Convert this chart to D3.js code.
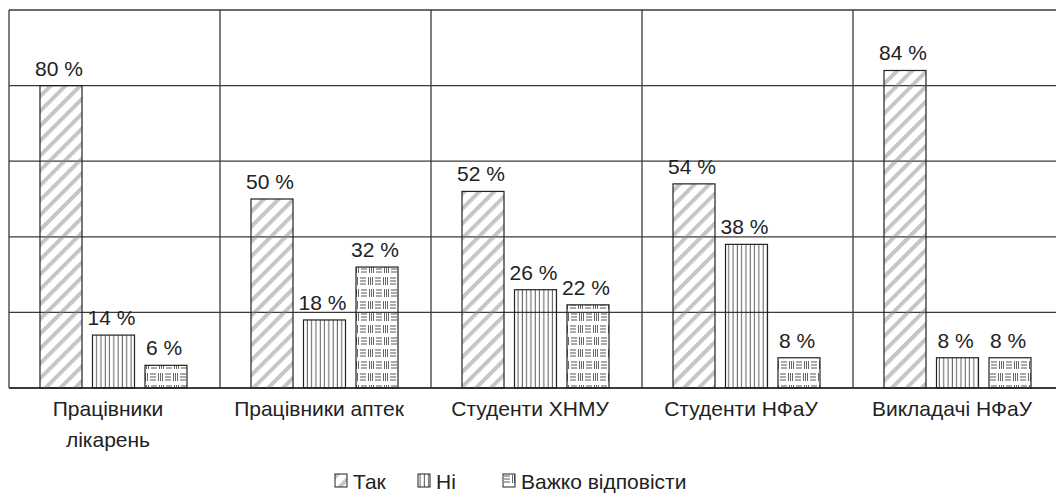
<!DOCTYPE html>
<html>
<head>
<meta charset="utf-8">
<script src="https://cdnjs.cloudflare.com/ajax/libs/d3/7.8.5/d3.min.js"></script>
<style>
	body { margin: 0; background: #fff; }
	svg { display: block; }
	text { font-family: "Liberation Sans", Arial, sans-serif; fill: #222; }
</style>
</head>
<body>
<svg id="chart"></svg>
<script>
// data
let categories = [["Працівники", "лікарень"], ["Працівники аптек"], ["Студенти ХНМУ"], ["Студенти НФаУ"], ["Викладачі НФаУ"]];
let seriesNames = ["Так", "Ні", "Важко відповісти"];
let yesValues = [80, 50, 52, 54, 84];
let noValues = [14, 18, 26, 38, 8];
let hardValues = [6, 32, 22, 8, 8];
let yTicks = [0, 20, 40, 60, 80, 100];

let width = 1056;
let height = 494;
let margin = {top: 10, left: 9, bottom: 106};
let plotW = 1055;
let plotH = height - margin.top - margin.bottom;

let svg = d3.select('#chart')
	.attr('width', width)
	.attr('height', height);

// patterns
let defs = svg.append('defs');

let diag = defs.append('pattern')
	.attr('id', 'pDiag')
	.attr('patternUnits', 'userSpaceOnUse')
	.attr('width', 10.5)
	.attr('height', 10)
	.attr('patternTransform', 'rotate(45)');
[0.5, 1.5, 2.5, 3.5].forEach(x => {
	diag.append('line')
		.attr('x1', x).attr('x2', x)
		.attr('y1', 0).attr('y2', 10)
		.attr('stroke', '#888')
		.attr('stroke-width', 0.5);
});

let vert = defs.append('pattern')
	.attr('id', 'pVert')
	.attr('patternUnits', 'userSpaceOnUse')
	.attr('width', 4.3)
	.attr('height', 10);
vert.append('line')
	.attr('x1', 2).attr('x2', 2)
	.attr('y1', 0).attr('y2', 10)
	.attr('stroke', '#222')
	.attr('stroke-width', 0.8);

let grid = defs.append('pattern')
	.attr('id', 'pGrid')
	.attr('patternUnits', 'userSpaceOnUse')
	.attr('width', 15)
	.attr('height', 24);

function hLines(g, x, y) {
	[0, 3, 6].forEach(dy => {
		g.append('line')
			.attr('x1', x).attr('x2', x + 6)
			.attr('y1', y + dy + 1).attr('y2', y + dy + 1)
			.attr('stroke', '#555').attr('stroke-width', 1);
	});
}
function vLines(g, x, y) {
	[0, 2, 4].forEach(dx => {
		g.append('line')
			.attr('x1', x + dx + 0.5).attr('x2', x + dx + 0.5)
			.attr('y1', y).attr('y2', y + 8)
			.attr('stroke', '#555').attr('stroke-width', 0.9);
	});
}
hLines(grid, 1, 1);
vLines(grid, 9, 1);
hLines(grid, 0, 13);
vLines(grid, 8, 13);

let fills = ['url(#pDiag)', 'url(#pVert)', 'url(#pGrid)'];

// scales
let x = d3.scaleBand()
	.domain(d3.range(categories.length))
	.range([margin.left, margin.left + plotW]);

let xInner = d3.scaleBand()
	.domain(d3.range(seriesNames.length))
	.range([31, 178])
	.paddingInner(0.2);

let y = d3.scaleLinear()
	.domain([0, 100])
	.range([margin.top + plotH, margin.top]);

// grid lines
svg.append('g')
	.attr('class', 'hgrid')
	.selectAll('line')
	.data(yTicks)
	.enter()
	.append('line')
	.attr('x1', margin.left)
	.attr('x2', margin.left + plotW)
	.attr('y1', d => y(d))
	.attr('y2', d => y(d))
	.attr('stroke', '#3a3a3a')
	.attr('stroke-width', d => d === 0 ? 2 : 1.3);

svg.append('g')
	.attr('class', 'vgrid')
	.selectAll('line')
	.data(d3.range(categories.length + 1))
	.enter()
	.append('line')
	.attr('x1', d => d < categories.length ? x(d) : margin.left + plotW)
	.attr('x2', d => d < categories.length ? x(d) : margin.left + plotW)
	.attr('y1', y(100))
	.attr('y2', y(0))
	.attr('stroke', '#3a3a3a')
	.attr('stroke-width', 1.3);

// bars
let rows = [];
[yesValues, noValues, hardValues].forEach((vals, s) => {
	vals.forEach((v, c) => rows.push({c: c, s: s, v: v}));
});

let bars = svg.append('g').attr('class', 'bars');

bars.selectAll('rect')
	.data(rows)
	.enter()
	.append('rect')
	.attr('x', d => x(d.c) + xInner(d.s))
	.attr('y', d => y(d.v))
	.attr('width', xInner.bandwidth())
	.attr('height', d => y(0) - y(d.v))
	.attr('fill', d => fills[d.s])
	.attr('stroke', '#222')
	.attr('stroke-width', 1.2);

bars.selectAll('text')
	.data(rows)
	.enter()
	.append('text')
	.attr('x', d => x(d.c) + xInner(d.s) + xInner.bandwidth() / 2 - 2)
	.attr('y', d => y(d.v) - 10)
	.attr('text-anchor', 'middle')
	.style('font-size', '21px')
	.text(d => d.v + ' %');

// category labels
let catLabels = svg.append('g')
	.selectAll('text')
	.data(categories)
	.enter()
	.append('text')
	.attr('x', (d, i) => x(i) + 99)
	.attr('y', 416)
	.attr('text-anchor', 'middle')
	.style('font-size', '21px');

catLabels.selectAll('tspan')
	.data(d => d)
	.enter()
	.append('tspan')
	.attr('x', function() { return d3.select(this.parentNode).attr('x'); })
	.attr('dy', (d, i) => i === 0 ? 0 : 31)
	.text(d => d);

// legend
let legendX = [335, 418, 503];
let legend = svg.append('g')
	.selectAll('g')
	.data(seriesNames)
	.enter()
	.append('g')
	.attr('transform', (d, i) => 'translate(' + legendX[i] + ',474)');

legend.append('rect')
	.attr('width', 12)
	.attr('height', 13)
	.attr('fill', (d, i) => fills[i])
	.attr('stroke', '#222')
	.attr('stroke-width', 1);

legend.append('text')
	.attr('x', 18)
	.attr('y', 15)
	.style('font-size', '21px')
	.text(d => d);
</script>
</body>
</html>
